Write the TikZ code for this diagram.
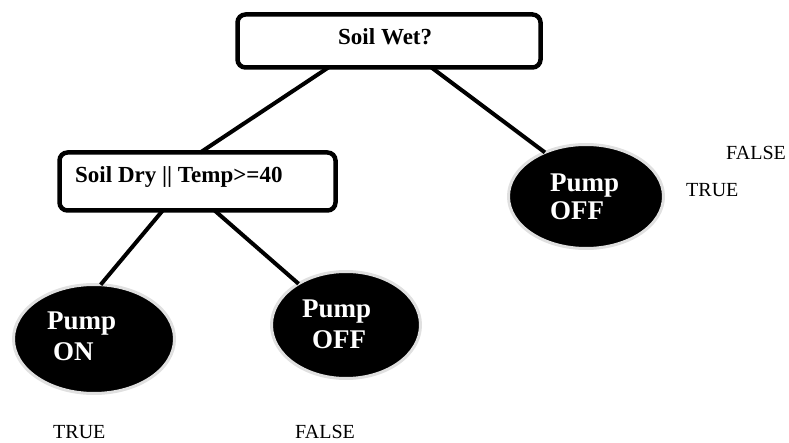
\documentclass[tikz,border=0pt]{standalone}
\usepackage{fontspec}
\setmainfont{Liberation Serif}
\usetikzlibrary{shapes.geometric,calc}
\begin{document}
\begin{tikzpicture}[x=1pt,y=-1pt,
  decbox/.style={draw=black,line width=4.5pt,rounded corners=8pt,fill=white,inner sep=0pt,outer sep=0pt},
  pumpell/.style={ellipse,fill=black,draw=black!12,line width=3pt,inner sep=0pt,outer sep=0pt},
  boxtxt/.style={anchor=base west,inner sep=0pt,font=\fontsize{23}{27}\selectfont\bfseries},
  pumptxt/.style={anchor=base west,inner sep=0pt,text=white,font=\fontsize{27}{31}\selectfont\bfseries},
  tflabel/.style={anchor=base west,inner sep=0pt,font=\fontsize{20}{24}\selectfont},
  conn/.style={line width=4pt,black}]
\useasboundingbox (0,0) rectangle (789,443);
% boxes
\node[decbox,minimum width=303pt,minimum height=53pt] (wet) at (389,41) {};
\node[decbox,minimum width=276pt,minimum height=58pt] (dry) at (197.5,181.5) {};
% ellipses
\node[pumpell,minimum width=155pt,minimum height=104pt] (offr) at (586,196.5) {};
\node[pumpell,minimum width=161pt,minimum height=109pt] (on) at (94,339) {};
\node[pumpell,minimum width=149pt,minimum height=107pt] (offb) at (346,325) {};
% connectors
\draw[conn] ($(wet.south west)!0.30!(wet.south east)$) -- ($(dry.north west)!0.51!(dry.north east)$);
\draw[conn] ($(wet.south west)!0.64!(wet.south east)$) -- (offr.133);
\draw[conn] ($(dry.south west)!0.374!(dry.south east)$) -- (on.83);
\draw[conn] ($(dry.south west)!0.562!(dry.south east)$) -- (offb.139);
% texts
\node[boxtxt] (wett) at (338,45) {Soil Wet?};
\node[boxtxt] (dryt) at (75,183) {Soil Dry || Temp>=40};
\node[pumptxt] (offrp) at (550,192) {Pump};
\node[pumptxt] (offro) at (550,220) {OFF};
\node[pumptxt] (onp) at (47,330) {Pump};
\node[pumptxt] (ono) at (53,360) {ON};
\node[pumptxt] (offbp) at (302,318) {Pump};
\node[pumptxt] (offbo) at (312,348) {OFF};
% labels
\node[tflabel] (f1) at (726,160) {FALSE};
\node[tflabel] (t1) at (686,197) {TRUE};
\node[tflabel] (t2) at (53,438) {TRUE};
\node[tflabel] (f2) at (295,438) {FALSE};
\end{tikzpicture}
\end{document}
